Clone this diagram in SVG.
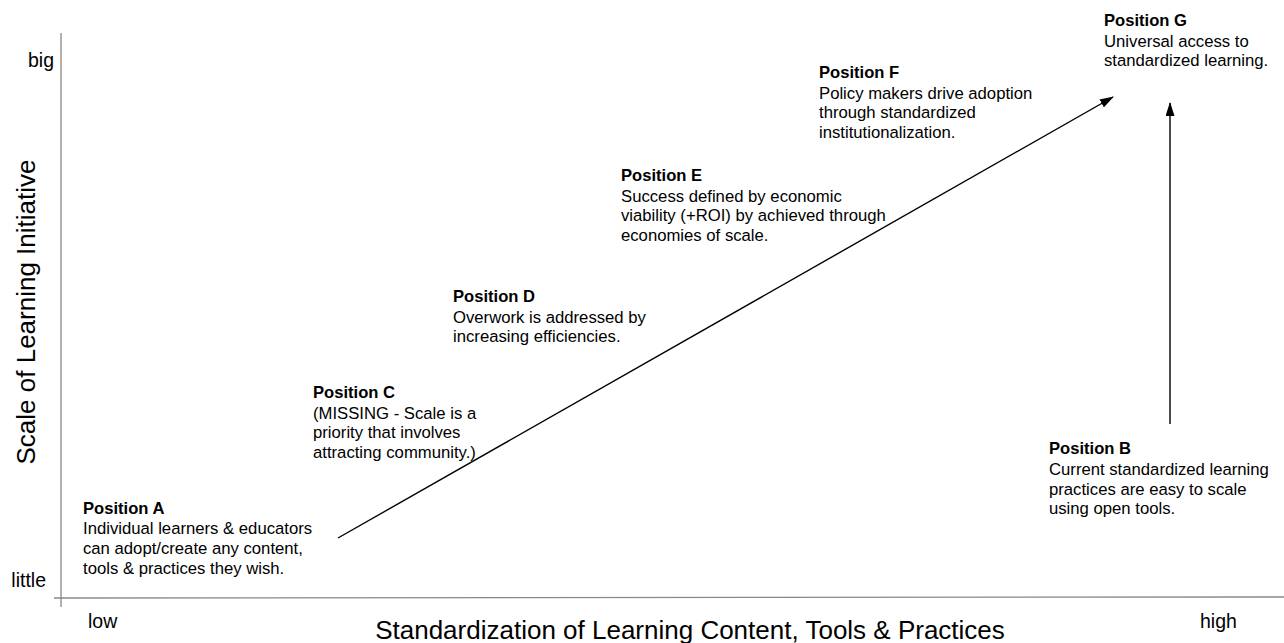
<svg xmlns="http://www.w3.org/2000/svg" width="1284" height="643" viewBox="0 0 1284 643">
<style>
text{font-family:"Liberation Sans",Arial,sans-serif;fill:#000}
.t{font-size:16.6px;font-weight:bold}
.b{font-size:16.7px}
.ax{font-size:19.5px}
.ttl{font-size:26px}
.axis{stroke:#888;stroke-width:1.3;fill:none}
.conn{stroke:#000;stroke-width:1.4;fill:none;marker-end:url(#ah)}
</style>
<defs>
<marker id="ah" viewBox="0 0 14 9" refX="13" refY="4.5" markerWidth="14" markerHeight="9" markerUnits="userSpaceOnUse" orient="auto">
<path d="M0,0 L14,4.5 L0,9 Z" fill="#000"/>
</marker>
</defs>
<g id="axes">
<line class="axis" x1="61" y1="33" x2="61" y2="607"/>
<line class="axis" x1="54" y1="598" x2="1284" y2="597"/>
<text class="ax" x="54" y="67" text-anchor="end">big</text>
<text class="ax" x="46" y="587" text-anchor="end">little</text>
<text class="ax" x="88" y="628">low</text>
<text class="ax" x="1200" y="628">high</text>
<text class="ttl" x="690" y="639" text-anchor="middle">Standardization of Learning Content, Tools &amp; Practices</text>
<text class="ttl" transform="translate(35,312) rotate(-90)" text-anchor="middle">Scale of Learning Initiative</text>
</g>
<g id="connectors">
<line class="conn" x1="338" y1="538" x2="1113" y2="97"/>
<line class="conn" x1="1170" y1="424" x2="1170" y2="103"/>
</g>
<g id="posA">
<text class="t" x="83" y="514">Position A</text>
<text class="b" x="83" y="534">Individual learners &amp; educators</text>
<text class="b" x="83" y="554">can adopt/create any content,</text>
<text class="b" x="83" y="573.5">tools &amp; practices they wish.</text>
</g>
<g id="posB">
<text class="t" x="1049" y="454">Position B</text>
<text class="b" x="1049" y="475">Current standardized learning</text>
<text class="b" x="1049" y="494.5">practices are easy to scale</text>
<text class="b" x="1049" y="514">using open tools.</text>
</g>
<g id="posC">
<text class="t" x="313" y="398">Position C</text>
<text class="b" x="313" y="418.5">(MISSING - Scale is a</text>
<text class="b" x="313" y="438">priority that involves</text>
<text class="b" x="313" y="457.5">attracting community.)</text>
</g>
<g id="posD">
<text class="t" x="453" y="302">Position D</text>
<text class="b" x="453" y="322.5">Overwork is addressed by</text>
<text class="b" x="453" y="342">increasing efficiencies.</text>
</g>
<g id="posE">
<text class="t" x="621" y="181">Position E</text>
<text class="b" x="621" y="201.5">Success defined by economic</text>
<text class="b" x="621" y="221">viability (+ROI) by achieved through</text>
<text class="b" x="621" y="240.5">economies of scale.</text>
</g>
<g id="posF">
<text class="t" x="819" y="78">Position F</text>
<text class="b" x="819" y="98.5">Policy makers drive adoption</text>
<text class="b" x="819" y="118">through standardized</text>
<text class="b" x="819" y="137.5">institutionalization.</text>
</g>
<g id="posG">
<text class="t" x="1104" y="26">Position G</text>
<text class="b" x="1104" y="46.5">Universal access to</text>
<text class="b" x="1104" y="66">standardized learning.</text>
</g>
</svg>
